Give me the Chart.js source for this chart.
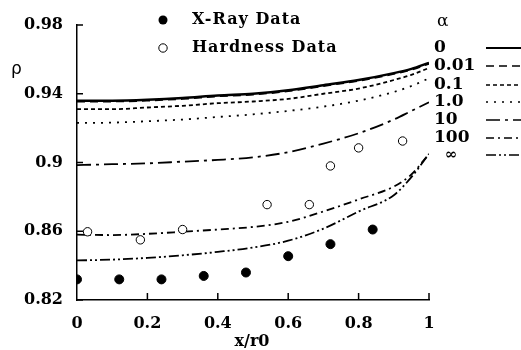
<!DOCTYPE html>
<html>
<head>
<meta charset="utf-8">
<script src="https://cdn.jsdelivr.net/npm/chart.js@4.4.1/dist/chart.umd.min.js"></script>
<style>
  html, body { margin: 0; padding: 0; background: #fff; }
  #wrap { width: 521px; height: 350px; }
</style>
</head>
<body>
<div id="wrap"><canvas id="rhoChart"></canvas></div>
<script>
// measured data
const xrayX = [0, 0.12, 0.24, 0.36, 0.48, 0.60, 0.72, 0.84];
const xrayY = [0.832, 0.832, 0.832, 0.834, 0.836, 0.8455, 0.8525, 0.861];
const hardX = [0.03, 0.18, 0.30, 0.54, 0.66, 0.72, 0.80, 0.925];
const hardY = [0.8597, 0.855, 0.861, 0.8755, 0.8755, 0.898, 0.9085, 0.9125];

// model curves, one per alpha
const curveX = [0, 0.1, 0.2, 0.3, 0.4, 0.5, 0.6, 0.7, 0.8, 0.9, 0.95, 1];
const alpha0 = [0.936, 0.936, 0.9365, 0.9375, 0.939, 0.940, 0.942, 0.945, 0.948, 0.952, 0.9545, 0.958];
const alpha001 = [0.9355, 0.9355, 0.936, 0.937, 0.9385, 0.9395, 0.9415, 0.9445, 0.9475, 0.9515, 0.954, 0.9575];
const alpha01 = [0.931, 0.931, 0.932, 0.933, 0.9345, 0.9355, 0.937, 0.940, 0.943, 0.948, 0.951, 0.955];
const alpha1 = [0.923, 0.9232, 0.924, 0.925, 0.9265, 0.928, 0.930, 0.9325, 0.936, 0.941, 0.9445, 0.949];
const alpha10 = [0.8985, 0.899, 0.8995, 0.9005, 0.9015, 0.903, 0.906, 0.911, 0.917, 0.925, 0.930, 0.935];
const alpha100 = [0.858, 0.8578, 0.8585, 0.8597, 0.861, 0.8625, 0.8655, 0.8715, 0.8785, 0.886, 0.893, 0.905];
const alphaInf = [0.843, 0.8435, 0.8445, 0.846, 0.848, 0.8505, 0.8545, 0.8615, 0.8715, 0.881, 0.8915, 0.905];

const alphaLabels = ['0', '0.01', '0.1', '1.0', '10', '100', '\u221E'];
const yTicks = [0.82, 0.86, 0.9, 0.94, 0.98];
const yTickLabels = ['0.82', '0.86', '0.9', '0.94', '0.98'];
const xTickLabels = ['0', '0.2', '0.4', '0.6', '0.8', '1'];

const serif = '"DejaVu Serif", "Liberation Serif", serif';

function pts(xs, ys) {
    return xs.map(function(x, i) { return { x: x, y: ys[i] }; });
}

const curves = [alpha0, alpha001, alpha01, alpha1, alpha10, alpha100, alphaInf];
const dashes = [[], [8, 5], [4, 3], [2, 6], [14, 5, 3, 5], [8, 4, 2, 4], [10, 3, 2, 3, 2, 3]];
const widths = [2.5, 1.8, 1.8, 1.8, 1.8, 1.8, 1.8];

const datasets = [
    {
        label: 'X-Ray Data', data: pts(xrayX, xrayY), showLine: false,
        pointRadius: 4.5, pointBackgroundColor: '#000', pointBorderColor: '#000', pointBorderWidth: 1
    },
    {
        label: 'Hardness Data', data: pts(hardX, hardY), showLine: false,
        pointRadius: 4.2, pointBackgroundColor: '#fff', pointBorderColor: '#000', pointBorderWidth: 1
    }
];
curves.forEach(function(c, i) {
    datasets.push({
        label: alphaLabels[i], data: pts(curveX, c), showLine: true,
        borderColor: '#000', borderWidth: widths[i], borderDash: dashes[i],
        pointRadius: 0, cubicInterpolationMode: 'monotone', fill: false
    });
});

// inward tick marks, axis titles and the hand-placed legend
const decor = {
    id: 'decor',
    afterDraw: function(chart) {
        const ctx = chart.ctx;
        const xs = chart.scales.x, ys = chart.scales.y;
        const area = chart.chartArea;
        ctx.save();
        ctx.strokeStyle = '#000';
        ctx.lineWidth = 1.5;
        ctx.setLineDash([]);
        yTicks.forEach(function(v) {
            const py = ys.getPixelForValue(v);
            ctx.beginPath(); ctx.moveTo(area.left, py); ctx.lineTo(area.left + 6, py); ctx.stroke();
        });
        [0.2, 0.4, 0.6, 0.8, 1].forEach(function(v) {
            const px = xs.getPixelForValue(v);
            ctx.beginPath(); ctx.moveTo(px, area.bottom); ctx.lineTo(px, area.bottom - 7); ctx.stroke();
        });

        ctx.fillStyle = '#000';
        ctx.textBaseline = 'middle';
        ctx.textAlign = 'left';
        ctx.font = '17px "DejaVu Sans", sans-serif';
        ctx.fillText('\u03C1', 11, 70);
        ctx.font = '17px ' + serif;
        ctx.fillText('\u03B1', 437, 22);

        ctx.font = 'bold 16px ' + serif;
        ctx.textAlign = 'center';
        ctx.fillText('x/r0', 252, 342);

        // data legend
        ctx.textAlign = 'left';
        ctx.font = 'bold 16px ' + serif;
        ctx.letterSpacing = '1px';
        ctx.beginPath(); ctx.arc(163, 20, 4.5, 0, Math.PI * 2); ctx.fill();
        ctx.fillText('X-Ray Data', 192, 20);
        ctx.beginPath(); ctx.arc(163, 48, 4.2, 0, Math.PI * 2);
        ctx.lineWidth = 1; ctx.fillStyle = '#fff'; ctx.fill(); ctx.stroke();
        ctx.fillStyle = '#000';
        ctx.fillText('Hardness Data', 192, 48);
        ctx.letterSpacing = '0px';

        // alpha legend
        const rowY = [48, 66, 85, 102, 120, 138, 155];
        alphaLabels.forEach(function(lab, i) {
            ctx.font = (i === 6 ? 'bold 15px ' : 'bold 17px ') + serif;
            ctx.fillText(lab, i === 6 ? 445 : 434, rowY[i]);
            const ds = chart.data.datasets[i + 2];
            ctx.lineWidth = i === 0 ? 2 : 1.5;
            ctx.setLineDash(ds.borderDash);
            ctx.beginPath(); ctx.moveTo(486, rowY[i]); ctx.lineTo(521, rowY[i]); ctx.stroke();
            ctx.setLineDash([]);
        });
        ctx.restore();
    }
};

document.addEventListener('DOMContentLoaded', function() {
    const ctx = document.getElementById('rhoChart').getContext('2d');
    const chart = new Chart(ctx, {
        type: 'scatter',
        data: { datasets: datasets },
        options: {
            responsive: true,
            maintainAspectRatio: false,
            animation: false,
            layout: { padding: { top: 25, right: 92, left: 0, bottom: 0 } },
            plugins: { legend: { display: false }, tooltip: { enabled: false } },
            scales: {
                x: {
                    type: 'linear', min: 0, max: 1,
                    afterFit: function(s) { s.height = 50; },
                    afterBuildTicks: function(s) {
                        s.ticks = xTickLabels.map(function(t) { return { value: parseFloat(t) }; });
                    },
                    grid: { display: false, drawTicks: false },
                    border: { display: true, color: '#000', width: 1.5 },
                    ticks: {
                        padding: 14, color: '#000',
                        font: { family: serif, size: 16, weight: 'bold' },
                        callback: function(v) { return xTickLabels[Math.round(v * 5)]; }
                    }
                },
                y: {
                    type: 'linear', min: 0.82, max: 0.98,
                    afterFit: function(s) { s.width = 77; },
                    afterBuildTicks: function(s) {
                        s.ticks = yTicks.map(function(v) { return { value: v }; });
                    },
                    grid: { display: false, drawTicks: false },
                    border: { display: true, color: '#000', width: 1.5 },
                    ticks: {
                        padding: 14, color: '#000',
                        font: { family: serif, size: 16, weight: 'bold' },
                        callback: function(v) {
                            const i = yTicks.findIndex(function(t) { return Math.abs(t - v) < 1e-6; });
                            return i >= 0 ? yTickLabels[i] : '';
                        }
                    }
                }
            }
        },
        plugins: [decor]
    });
});
</script>
</body>
</html>
